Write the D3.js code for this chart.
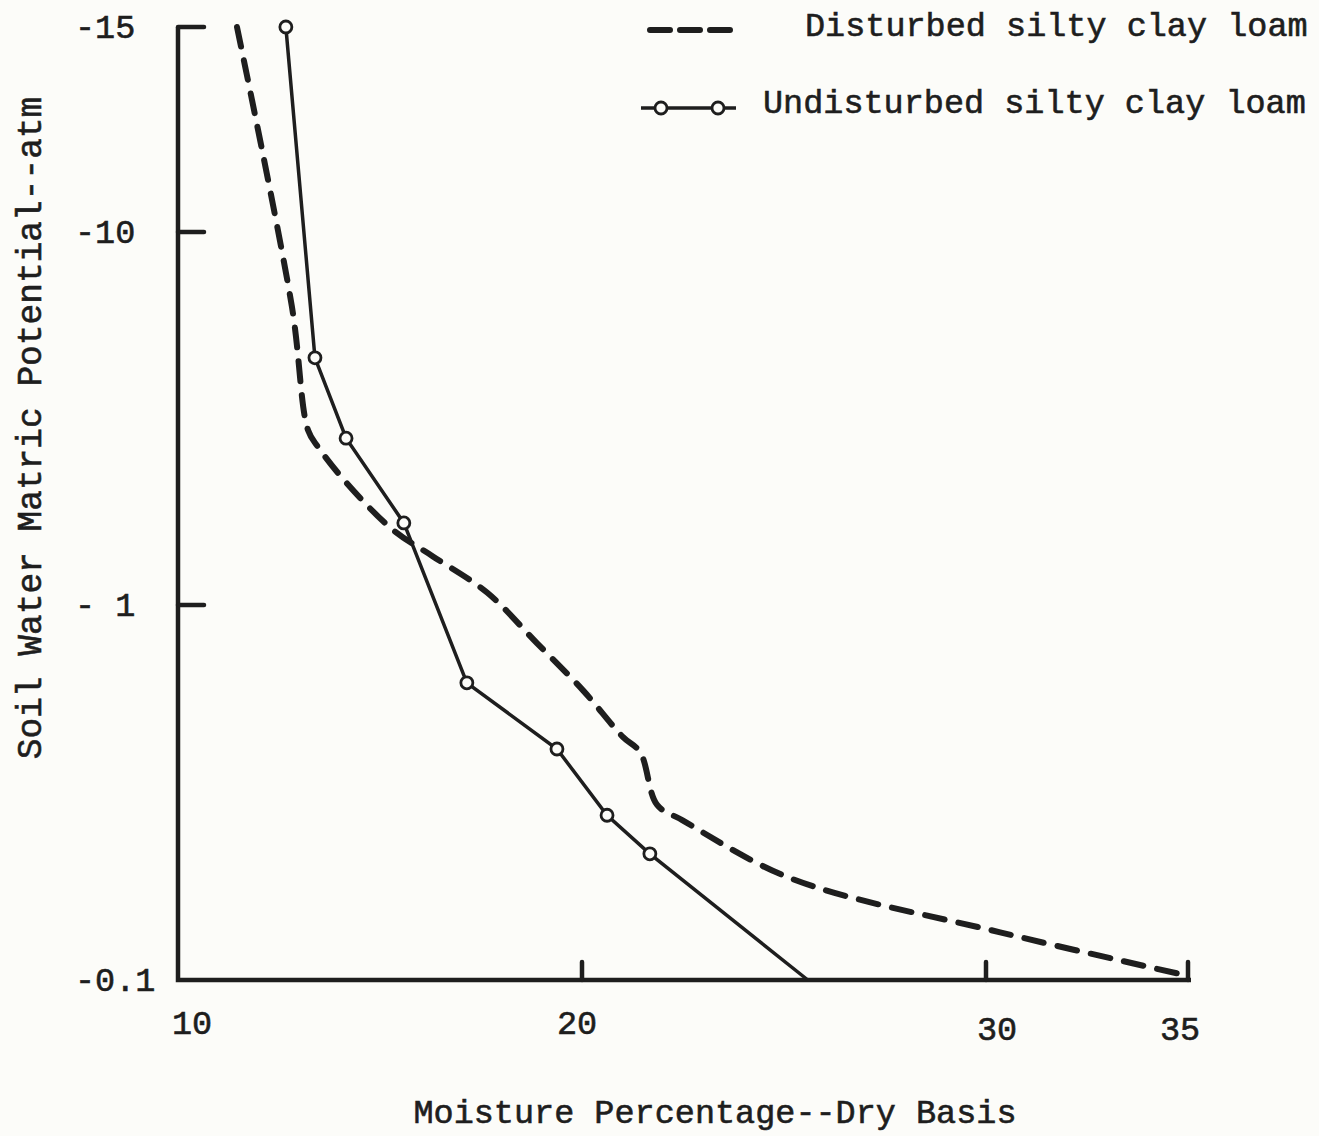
<!DOCTYPE html>
<html>
<head>
<meta charset="utf-8">
<script src="https://cdn.jsdelivr.net/npm/d3@7"></script>
<style>
  body { margin: 0; background: #fcfcf9; }
  svg { display: block; }
  text { font-family: "Liberation Mono", "DejaVu Sans Mono", monospace; fill: #1e1e1e; stroke: #1e1e1e; stroke-width: 0.6; }
</style>
</head>
<body>
<div id="chart"></div>
<script>
const width = 1319;
const height = 1136;
const ink = "#1e1e1e";

// moisture % (dry basis) vs soil water matric potential (atm)
const undisturbedMoisture = [12.67, 13.39, 14.16, 15.59, 17.15, 19.38, 20.62, 21.68, 25.59];
const undisturbedPotential = [-15, -4.6, -2.8, -1.66, -0.62, -0.413, -0.275, -0.217, -0.1];

const disturbedMoisture = [11.46, 12.82, 13.22, 13.47, 14.18, 15.32, 16.31, 17.65, 18.89, 20.02, 21.01, 21.44, 21.86, 22.48, 25.15, 30.35, 34.93];
const disturbedPotential = [-15, -6.3, -2.94, -2.65, -2.12, -1.59, -1.35, -1.08, -0.79, -0.593, -0.445, -0.405, -0.293, -0.267, -0.187, -0.134, -0.103];

const xTickValues = [10, 20, 30, 35];
const xTickLabels = ["10", "20", "30", "35"];
const yTickValues = [-15, -10, -1, -0.1];
const yTickLabels = ["-15", "-10", "- 1", "-0.1"];

const seriesNames = ["Disturbed silty clay loam", "Undisturbed silty clay loam"];

const undisturbed = undisturbedMoisture.map((m, i) => ({ m, p: undisturbedPotential[i] }));
const disturbed = disturbedMoisture.map((m, i) => ({ m, p: disturbedPotential[i] }));

const x = d3.scaleLinear().domain([10, 35]).range([178, 1188]);
// hand-ruled log axis: decades are even, the -10 to -15 stretch is drawn wider
const yLog = d3.scaleLinear()
    .domain([-1, 0, 1, Math.log10(15)])
    .range([980, 605, 232, 27]);
const y = v => yLog(Math.log10(-v));

// typed labels sit a little off their ticks
const xLabelNudge = [14, -5, 11, -8];

const svg = d3.select("#chart").append("svg")
    .attr("width", width)
    .attr("height", height);

svg.append("rect").attr("width", width).attr("height", height).attr("fill", "#fcfcf9");

// axes frame
svg.append("path")
    .attr("d", `M${x(10)},${y(-15)} V${y(-0.1)} H${x(35) + 3}`)
    .attr("fill", "none")
    .attr("stroke", ink)
    .attr("stroke-width", 4.5);

svg.append("g").selectAll("line")
    .data(yTickValues.filter(v => v !== -0.1))
    .enter().append("line")
    .attr("x1", x(10))
    .attr("x2", x(10) + 26)
    .attr("y1", d => y(d))
    .attr("y2", d => y(d))
    .attr("stroke", ink)
    .attr("stroke-width", 4.5)
    .attr("stroke-linecap", "round");

svg.append("g").selectAll("line")
    .data(xTickValues.filter(v => v !== 10))
    .enter().append("line")
    .attr("x1", d => x(d))
    .attr("x2", d => x(d))
    .attr("y1", y(-0.1))
    .attr("y2", y(-0.1) - 18)
    .attr("stroke", ink)
    .attr("stroke-width", 4.5)
    .attr("stroke-linecap", "round");

svg.append("g").selectAll("text")
    .data(yTickValues)
    .enter().append("text")
    .attr("x", 75)
    .attr("y", d => y(d) + 11)
    .attr("font-size", 33.5)
    .text((d, i) => yTickLabels[i]);

svg.append("g").selectAll("text")
    .data(xTickValues)
    .enter().append("text")
    .attr("x", (d, i) => x(d) + xLabelNudge[i])
    .attr("y", (d, i) => 1034 + (i > 1 ? 6 : 0))
    .attr("text-anchor", "middle")
    .attr("font-size", 33.5)
    .text((d, i) => xTickLabels[i]);

svg.append("text")
    .attr("x", 715)
    .attr("y", 1123)
    .attr("text-anchor", "middle")
    .attr("font-size", 33.5)
    .text("Moisture Percentage--Dry Basis");

svg.append("text")
    .attr("transform", "translate(41,428) rotate(-90)")
    .attr("text-anchor", "middle")
    .attr("font-size", 34.5)
    .text("Soil Water Matric Potential--atm");

const line = d3.line().x(d => x(d.m)).y(d => y(d.p));

svg.append("path")
    .datum(disturbed)
    .attr("d", line.curve(d3.curveCatmullRom.alpha(0.5)))
    .attr("fill", "none")
    .attr("stroke", ink)
    .attr("stroke-width", 6)
    .attr("stroke-dasharray", "20 14")
    .attr("stroke-linecap", "round");

svg.append("path")
    .datum(undisturbed)
    .attr("d", line.curve(d3.curveLinear))
    .attr("fill", "none")
    .attr("stroke", ink)
    .attr("stroke-width", 3.5);

svg.append("g").selectAll("circle")
    .data(undisturbed.filter(d => d.p !== -0.1))
    .enter().append("circle")
    .attr("cx", d => x(d.m))
    .attr("cy", d => y(d.p))
    .attr("r", 6)
    .attr("fill", "#fcfcf9")
    .attr("stroke", ink)
    .attr("stroke-width", 2.8);

// legend
const legend = svg.append("g");
legend.append("line")
    .attr("x1", 650).attr("x2", 730).attr("y1", 30).attr("y2", 30)
    .attr("stroke", ink).attr("stroke-width", 6)
    .attr("stroke-dasharray", "20 10").attr("stroke-linecap", "round");
legend.append("text")
    .attr("x", 805).attr("y", 36)
    .attr("font-size", 33.5)
    .text(seriesNames[0]);

legend.append("line")
    .attr("x1", 641).attr("x2", 736).attr("y1", 108).attr("y2", 108)
    .attr("stroke", ink).attr("stroke-width", 3.5);
legend.selectAll("circle")
    .data([661, 718])
    .enter().append("circle")
    .attr("cx", d => d).attr("cy", 108).attr("r", 6)
    .attr("fill", "#fcfcf9").attr("stroke", ink).attr("stroke-width", 2.8);
legend.append("text")
    .attr("x", 763).attr("y", 113)
    .attr("font-size", 33.5)
    .text(seriesNames[1]);
</script>
</body>
</html>
